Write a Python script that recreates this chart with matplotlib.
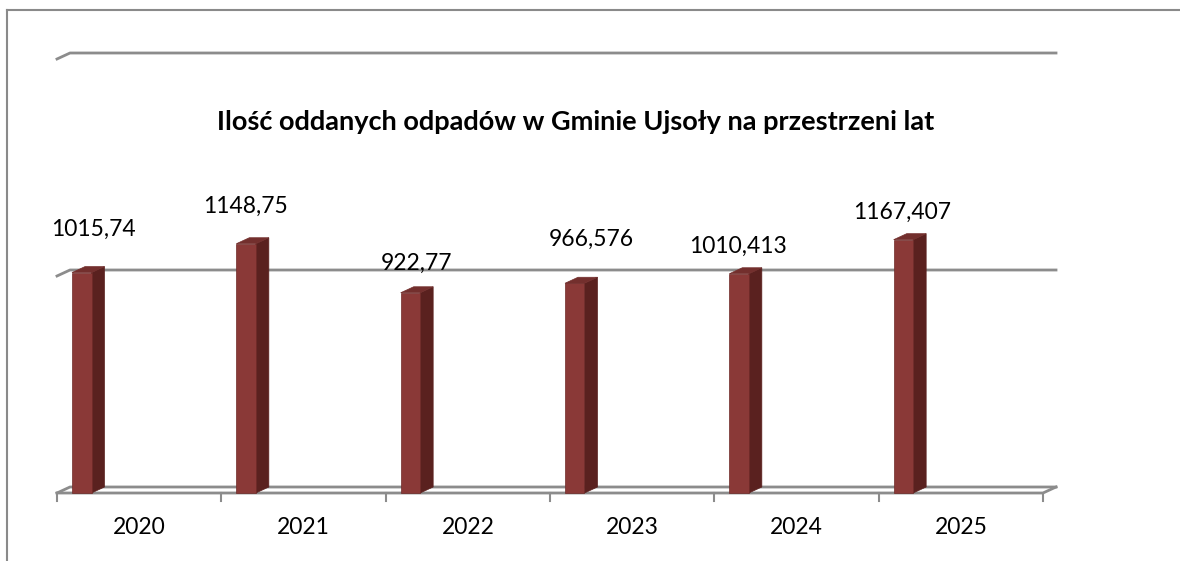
import numpy as np
import matplotlib.pyplot as plt
from matplotlib.patches import Polygon
from matplotlib.lines import Line2D

years = ["2020", "2021", "2022", "2023", "2024", "2025"]
values = [1015.74, 1148.75, 922.77, 966.576, 1010.413, 1167.407]
labels = ["1015,74", "1148,75", "922,77", "966,576", "1010,413", "1167,407"]
title = "Ilość oddanych odpadów w Gminie Ujsoły na przestrzeni lat"

# excel puts the 3d labels a bit unevenly, nudge in pixels
label_dx = [12, -1, 6, 17, -1, -1]
label_dy = [43, 37, 29, 44, 27, 27]

W, H = 1180, 561
plt.rcParams['font.family'] = ['Lato', 'DejaVu Sans']
fig = plt.figure(figsize=(W / 100, H / 100), dpi=100)

ax = fig.add_axes([57 / W, 68 / H, 986 / W, 434 / H])
ax.set_xlim(0, len(years))
ax.set_ylim(0, 2000)
ax.axis('off')

# pixel -> data units
px_x = len(years) / 986
px_y = 2000 / 434
dx, dy = 13 * px_x, 6 * px_y

grid = '#8c8c8c'
front_c, side_c, top_c = '#8a3937', '#5a211f', '#732f2d'

# back wall gridlines + left wall slant
for v in [0, 1000, 2000]:
    ax.plot([0, dx, len(years) + dx], [v, v + dy, v + dy], color=grid, lw=2, clip_on=False, zorder=1)
# floor front edge
ax.plot([0, len(years), len(years) + dx], [0, 0, dy], color=grid, lw=2, clip_on=False, zorder=1)
for i in range(len(years) + 1):
    ax.plot([i, i], [0, -8 * px_y], color=grid, lw=1.5, clip_on=False, zorder=1)

bw = 19.5 * px_x
for i, v in enumerate(values):
    x0 = i + 15 * px_x
    x1 = x0 + bw
    side = Polygon([(x1, 0), (x1, v), (x1 + dx, v + dy), (x1 + dx, dy)], closed=True,
                   facecolor=side_c, edgecolor=side_c, lw=0.5, clip_on=False, zorder=3)
    top = Polygon([(x0, v), (x1, v), (x1 + dx, v + dy), (x0 + dx, v + dy)], closed=True,
                  facecolor=top_c, edgecolor=top_c, lw=0.5, clip_on=False, zorder=3)
    front = Polygon([(x0, 0), (x1, 0), (x1, v), (x0, v)], closed=True,
                    facecolor=front_c, edgecolor='#6e2a28', lw=0.5, clip_on=False, zorder=4)
    ax.add_patch(side)
    ax.add_patch(top)
    ax.add_patch(front)
    ax.annotate(labels[i], xy=(x0 + bw / 2, v), xytext=(label_dx[i], label_dy[i]),
                textcoords='offset pixels', ha='center', va='center', fontsize=16.5, color='black')
    ax.annotate(years[i], xy=(i + 0.5, 0), xytext=(0, -34), textcoords='offset pixels',
                ha='center', va='center', fontsize=16.5, color='black', annotation_clip=False)

fig.text(576 / W, 1 - 122 / H, title, ha='center', va='center', fontsize=19.5, fontweight='bold')

# chart frame (cut off on right and bottom)
fig.add_artist(Line2D([7 / W, 7 / W], [0, 1 - 10 / H], color='#8a8a8a', lw=1.5))
fig.add_artist(Line2D([7 / W, 1], [1 - 10 / H, 1 - 10 / H], color='#8a8a8a', lw=1.5))

fig.savefig('out.png', dpi=100)
